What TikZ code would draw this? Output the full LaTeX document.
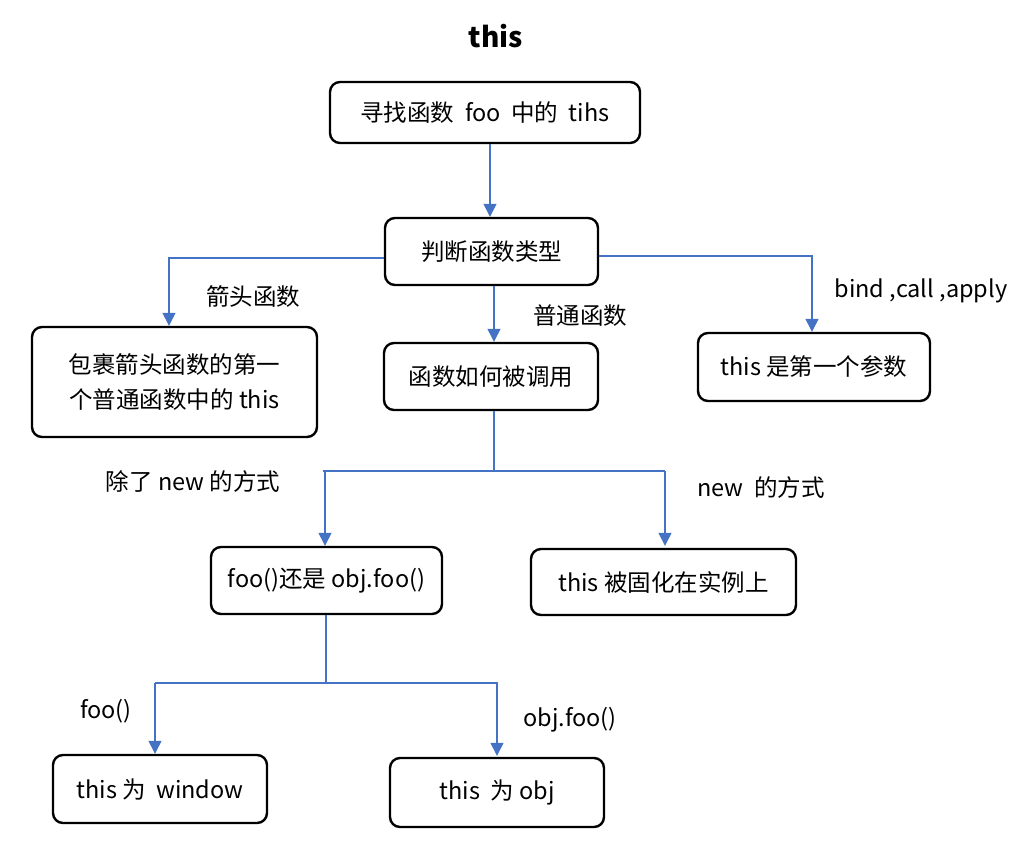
\documentclass[tikz,border=0pt]{standalone}
\usepackage{fontspec}
\setmainfont{Noto Sans CJK SC}
\usetikzlibrary{arrows.meta}
\definecolor{linkblue}{RGB}{68,114,196}
\begin{document}
\begin{tikzpicture}[x=1pt,y=-1pt,
  box/.style={draw=black,line width=2.4pt,rounded corners=10pt,align=center,inner sep=0pt,
    font=\fontsize{23.5}{35}\selectfont},
  lbl/.style={font=\fontsize{23.5}{26}\selectfont,inner sep=0pt},
  conn/.style={draw=linkblue,line width=1.3pt},
  arr/.style={conn,-{Triangle[width=13pt,length=13pt]}}]
\useasboundingbox (0,0) rectangle (1035,855);
\node[font=\fontsize{28}{30}\selectfont\bfseries] (title) at (496,36) {this};
\node[box,minimum width=310pt,minimum height=61pt] (b1) at (485,112.5) {寻找函数\ \ foo\ \ 中的\ \ tihs};
\node[box,minimum width=213pt,minimum height=67pt] (b2) at (491.5,251.5) {判断函数类型};
\node[box,minimum width=285pt,minimum height=110pt] (b3) at (174.5,382) {包裹箭头函数的第一\\个普通函数中的 this};
\node[box,minimum width=214pt,minimum height=67pt] (b4) at (491,376.5) {函数如何被调用};
\node[box,minimum width=232pt,minimum height=68pt] (b5) at (814,367) {this 是第一个参数};
\node[box,minimum width=231pt,minimum height=67pt] (b6) at (326.5,580.5) {foo()还是 obj.foo()};
\node[box,minimum width=265pt,minimum height=66pt] (b7) at (663.5,582) {this 被固化在实例上};
\node[box,minimum width=214pt,minimum height=68pt] (b8) at (160,789) {this 为\ \ window};
\node[box,minimum width=214pt,minimum height=69pt] (b9) at (497,792.5) {this\ \ 为 obj};
\node[lbl] (l1) at (253,296) {箭头函数};
\node[lbl] (l2) at (580,316) {普通函数};
\node[lbl] (l3) at (921,291) {bind ,call ,apply};
\node[lbl] (l4) at (193,481) {除了 new 的方式};
\node[lbl] (l5) at (761,488) {new\ \ 的方式};
\node[lbl] (l6) at (106,711) {foo()};
\node[lbl] (l7) at (570,720) {obj.foo()};
% connectors
\draw[arr] (b1.south -| 490,0) -- (b2.north -| 490,0);
\draw[arr] ([yshift=-6.5pt]b2.west) -| ([xshift=-5.5pt]b3.north);
\draw[arr] (b2.south -| 494,0) -- (b4.north -| 494,0);
\draw[arr] ([yshift=-4.5pt]b2.east) -| ([xshift=-2pt]b5.north);
\coordinate (j1) at (494,471);
\draw[conn] (b4.south -| 494,0) -- (j1);
\draw[conn] (323,471) -- (665,471);
\draw[arr] (325,471) -- (b6.north -| 325,0);
\draw[arr] (665,471) -- ([yshift=2pt]b7.north -| 665,0);
\coordinate (j2) at (326,683);
\draw[conn] (b6.south -| 326,0) -- (j2);
\draw[conn] (155,683) -- (498,683);
\draw[arr] (155,683) -- (b8.north -| 155,0);
\draw[arr] (497,683) -- ([yshift=1pt]b9.north -| 497,0);
\end{tikzpicture}
\end{document}
